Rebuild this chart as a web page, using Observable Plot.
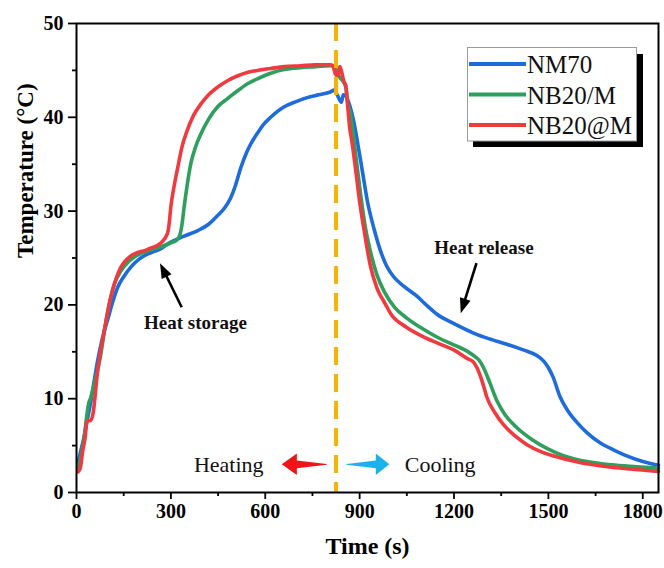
<!DOCTYPE html>
<html><head><meta charset="utf-8">
<script src="https://cdn.jsdelivr.net/npm/d3@7"></script>
<script src="https://cdn.jsdelivr.net/npm/@observablehq/plot@0.6"></script>
<style>body{margin:0;background:#fff} #chart{width:664px;height:568px}</style>
</head><body><div id="chart"></div>
<script>
const seriesNames = ["NM70", "NB20/M", "NB20@M"];
const seriesColors = ["#1E6BDB", "#2E9F5C", "#EF3A3F"];

const nm70Time = [5,14,22,30,45,67,85,98,115,130,150,172,200,225,268,300,340,384,420,448,470,490,505,522,540,553,575,596,617,659,700,733,770,807,820,830,842,848,855,868,881,895,910,925,945,965,985,1008,1040,1083,1115,1146,1200,1262,1310,1368,1420,1463,1485,1500,1515,1537,1560,1590,1625,1664,1710,1749,1800,1850];
const nm70Temp = [3.2,4.5,5.6,7.0,9.6,14.0,16.8,18.3,20.3,21.8,23.0,24.0,24.9,25.4,26.0,26.7,27.3,27.9,28.6,29.5,30.3,31.4,32.7,34.6,36.2,37.1,38.3,39.3,40.0,41.1,41.7,42.1,42.4,42.7,42.9,42.3,41.6,42.4,42.3,41.3,39.6,37.0,34.0,31.0,28.2,25.9,24.2,23.0,22.0,20.9,19.9,19.0,18.0,17.0,16.4,15.8,15.2,14.6,14.0,13.3,12.3,10.2,8.8,7.5,6.3,5.3,4.5,3.9,3.3,2.9];

const nb20mTime = [5,14,25,32,38,45,55,77,90,104,120,141,165,193,230,268,299,318,328,335,342,352,363,378,395,420,448,480,511,545,575,617,660,712,760,807,820,828,838,848,856,862,870,880,890,903,918,935,955,980,1010,1050,1103,1150,1209,1240,1262,1280,1294,1315,1336,1360,1400,1450,1495,1550,1622,1700,1780,1850];
const nb20mTemp = [2.6,3.8,6.0,8.0,9.4,10.1,11.4,14.7,17.5,20.1,22.2,23.6,24.6,25.3,25.8,26.2,26.6,26.9,27.4,28.5,30.4,32.8,35.0,36.8,38.2,39.8,41.1,42.0,42.8,43.6,44.1,44.7,45.1,45.3,45.4,45.5,45.4,44.8,44.2,43.8,43.2,41.5,40.5,38.2,35.3,31.8,28.3,25.6,23.2,21.3,19.8,18.6,17.4,16.5,15.6,15.1,14.6,14.1,13.3,11.6,9.8,8.4,6.9,5.6,4.7,3.9,3.3,2.95,2.75,2.6];

const nb20aTime = [5,12,20,28,33,45,52,67,88,109,135,172,225,268,289,295,300,310,321,335,352,372,395,420,448,480,511,545,575,617,660,712,760,807,815,823,830,837,843,850,856,862,868,876,887,900,915,934,955,980,1000,1050,1103,1150,1199,1241,1262,1273,1290,1305,1330,1358,1395,1432,1480,1537,1600,1675,1760,1850];
const nb20aTemp = [2.2,2.6,4.5,6.0,7.6,7.7,8.3,12.9,17.2,20.8,23.6,25.2,25.9,26.6,27.6,28.8,30.5,32.6,34.5,36.8,38.6,40.2,41.4,42.4,43.2,43.9,44.4,44.8,45.0,45.2,45.4,45.5,45.6,45.6,45.5,44.6,44.4,45.4,44.8,43.8,43.4,41.2,39.0,37.3,34.5,31.0,27.8,24.2,21.8,20.2,19.0,17.6,16.6,15.9,15.2,14.3,13.9,13.3,11.8,10.1,8.5,7.2,6.0,5.1,4.3,3.7,3.2,2.8,2.5,2.25];

const xTicks = [0, 300, 600, 900, 1200, 1500, 1800];
const xMinorTicks = [150, 450, 750, 1050, 1350, 1650];
const yTicks = [0, 10, 20, 30, 40, 50];
const yMinorTicks = [5, 15, 25, 35, 45];
const switchTime = [825];

const phaseText = ["Heating", "Cooling"];
const phaseTextTime = [484, 1156];
const phaseTextTemp = [2.95, 2.95];
const arrowCenterTemp = 2.95;
const heatingArrowTime = [654, 702, 702, 797];
const heatingArrowHalf = [0, 1.15, 0.42, 0.04];
const coolingArrowTime = [860, 953, 953, 996];
const coolingArrowHalf = [0.04, 0.42, 1.15, 0];

const noteText = ["Heat storage", "Heat release"];
const noteTime = [378, 1295];
const noteTemp = [18.1, 26.1];
const noteArrowFromTime = [336, 1273];
const noteArrowFromTemp = [19.7, 24.4];
const noteArrowToTime = [267, 1223];
const noteArrowToTemp = [24.4, 19.05];

const data = [];
[[nm70Time, nm70Temp], [nb20mTime, nb20mTemp], [nb20aTime, nb20aTemp]].forEach(([ts, vs], i) => {
  ts.forEach((t, j) => data.push({series: seriesNames[i], t, v: vs[j]}));
});
const heatingArrow = heatingArrowTime.map((t, i) => ({t, lo: arrowCenterTemp - heatingArrowHalf[i], hi: arrowCenterTemp + heatingArrowHalf[i]}));
const coolingArrow = coolingArrowTime.map((t, i) => ({t, lo: arrowCenterTemp - coolingArrowHalf[i], hi: arrowCenterTemp + coolingArrowHalf[i]}));
const phases = phaseText.map((text, i) => ({text, t: phaseTextTime[i], v: phaseTextTemp[i]}));
const notes = noteText.map((text, i) => ({text, t: noteTime[i], v: noteTemp[i]}));
const noteArrows = noteText.map((text, i) => ({x1: noteArrowFromTime[i], y1: noteArrowFromTemp[i], x2: noteArrowToTime[i], y2: noteArrowToTemp[i]}));

const font = "'Liberation Serif', 'Times New Roman', serif";

// annotation arrows with filled heads, positioned through Plot's scales
function noteArrowMark(index, scales) {
  const g = d3.create("svg:g");
  const headLen = 15, headHalf = 5.5;
  noteArrows.forEach(a => {
    const x1 = scales.x(a.x1), y1 = scales.y(a.y1), x2 = scales.x(a.x2), y2 = scales.y(a.y2);
    const dx = x2 - x1, dy = y2 - y1, L = Math.hypot(dx, dy);
    const ux = dx / L, uy = dy / L;
    const bx = x2 - ux * headLen, by = y2 - uy * headLen;
    g.append("line").attr("x1", x1).attr("y1", y1).attr("x2", bx + ux * 2).attr("y2", by + uy * 2)
      .attr("stroke", "black").attr("stroke-width", 2.6);
    g.append("path")
      .attr("d", `M${x2},${y2}L${bx - uy * headHalf},${by + ux * headHalf}L${bx + uy * headHalf},${by - ux * headHalf}Z`)
      .attr("fill", "black");
  });
  return g.node();
}

const plot = Plot.plot({
  width: 664, height: 568,
  marginLeft: 76, marginRight: 6, marginTop: 23, marginBottom: 76,
  style: {fontFamily: font, background: "white", color: "black"},
  x: {domain: [0, 1850], axis: null},
  y: {domain: [0, 50], axis: null},
  color: {domain: seriesNames, range: seriesColors},
  marks: [
    Plot.line(data, {x: "t", y: "v", z: "series", stroke: "series", strokeWidth: 3.6, curve: "monotone-x"}),
    Plot.ruleX(switchTime, {stroke: "#F6B300", strokeWidth: 4, strokeDasharray: "18,9"}),
    Plot.areaY(heatingArrow, {x: "t", y1: "lo", y2: "hi", fill: "#F01419"}),
    Plot.areaY(coolingArrow, {x: "t", y1: "lo", y2: "hi", fill: "#1DB1EC"}),
    Plot.text(phases, {x: "t", y: "v", text: "text", fontSize: 22, fill: "#111"}),
    Plot.text(notes, {x: "t", y: "v", text: "text", fontSize: 19, fontWeight: "bold", fill: "#111"}),
    noteArrowMark,
    Plot.frame({stroke: "black", strokeWidth: 2}),
    Plot.axisX({ticks: xTicks, tickSize: 7, tickPadding: 4, tickFormat: d => String(d), fontSize: 20, fontWeight: "bold", strokeWidth: 1.8, label: null}),
    Plot.axisX({ticks: xMinorTicks, tickSize: 4, tickFormat: () => "", strokeWidth: 1.8, label: null}),
    Plot.axisY({ticks: yTicks, tickSize: 8, tickPadding: 5, tickFormat: d => String(d), fontSize: 20, fontWeight: "bold", strokeWidth: 1.8, label: null}),
    Plot.axisY({ticks: yMinorTicks, tickSize: 4, tickFormat: () => "", strokeWidth: 1.8, label: null}),
    Plot.text(["Time (s)"], {frameAnchor: "bottom", dy: 61, text: d => d, fontSize: 24, fontWeight: "bold"}),
    Plot.text(["Temperature (°C)"], {frameAnchor: "left", dx: -51, rotate: -90, text: d => d, fontSize: 23, fontWeight: "bold"})
  ]
});

// legend box with drop shadow
const svg = d3.select(plot);
const lg = svg.append("g").attr("font-family", font).attr("text-anchor", "start");
lg.append("rect").attr("x", 473).attr("y", 54).attr("width", 170).attr("height", 93).attr("fill", "black");
lg.append("rect").attr("x", 467.5).attr("y", 47.5).attr("width", 169).attr("height", 93.5).attr("fill", "white").attr("stroke", "#9a9a9a").attr("stroke-width", 1);
const legendY = [64, 94.5, 125];
seriesNames.forEach((name, i) => {
  lg.append("line").attr("x1", 469).attr("x2", 526).attr("y1", legendY[i]).attr("y2", legendY[i])
    .attr("stroke", seriesColors[i]).attr("stroke-width", 4);
  lg.append("text").attr("x", 527).attr("y", legendY[i] + 9).attr("font-size", 25).attr("fill", "#111")
    .attr("text-anchor", "start").text(name);
});

document.getElementById("chart").appendChild(plot);
</script>
</body></html>
